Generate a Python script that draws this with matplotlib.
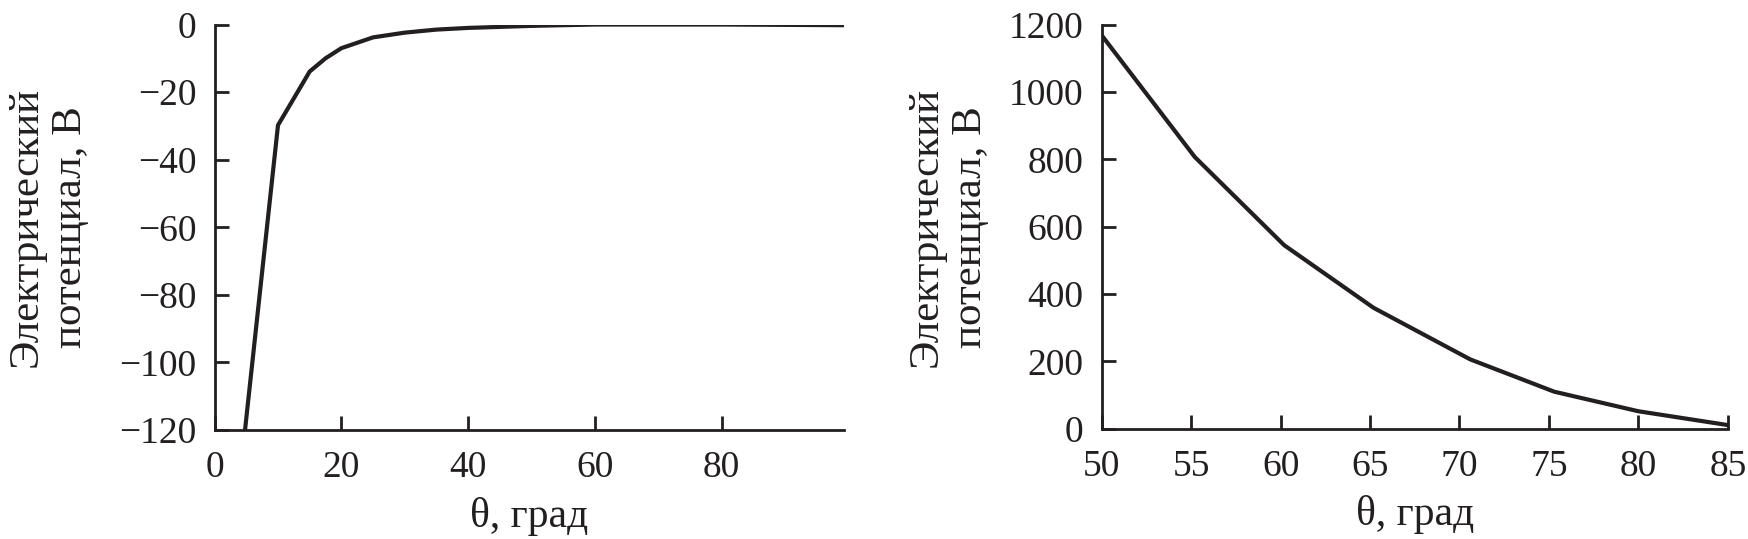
import numpy as np
import matplotlib.pyplot as plt

# left panel: potential vs angle (full range)
theta_left = [4.8, 10, 15, 17.5, 20, 25, 30, 35, 40, 45, 50, 55, 60, 70, 80, 90, 99]
pot_left = [-120, -29.8, -13.9, -10.0, -7.0, -3.8, -2.4, -1.5, -1.0, -0.7, -0.4, -0.2, 0.0, 0.0, 0.0, -0.1, -0.2]

# right panel: potential vs angle (50..85)
theta_right = [50, 55.2, 60.2, 65.2, 70.6, 75.3, 80, 85]
pot_right = [1168, 807, 545, 359, 206, 110, 52, 11]

ylabel = "Электрический\nпотенциал, В"
xlabel = "θ, град"

plt.rcParams["font.family"] = ["Liberation Serif", "DejaVu Serif"]

fig = plt.figure(figsize=(17.49, 5.39), dpi=100)
ax1 = fig.add_axes([0.1227, 0.2022, 0.3599, 0.7523])
ax2 = fig.add_axes([0.6299, 0.2045, 0.3580, 0.75])

for ax in (ax1, ax2):
    for s in ("top", "right"):
        ax.spines[s].set_visible(False)
    for s in ("left", "bottom"):
        ax.spines[s].set_linewidth(2.0)
        ax.spines[s].set_color("#231f20")
    ax.tick_params(direction="in", length=10, width=2.0, color="#231f20",
                   labelsize=27, labelcolor="#231f20")
    ax.tick_params(axis="x", pad=15)
    ax.tick_params(axis="y", pad=13)
    ax.set_xlabel(xlabel, fontsize=30, color="#231f20")
    ax.set_ylabel(ylabel, fontsize=31, color="#231f20", linespacing=1.2)
    ax.xaxis.set_label_coords(0.5, -0.165)

ax1.yaxis.set_label_coords(-0.198, 0.5)
ax2.yaxis.set_label_coords(-0.178, 0.5)

ax1.plot(theta_left, pot_left, color="#231f20", lw=3.0)
ax1.set_xlim(0, 99.3)
ax1.set_ylim(-120, 0)
ax1.set_xticks([0, 20, 40, 60, 80])
ax1.set_yticks([0, -20, -40, -60, -80, -100, -120])

ax2.plot(theta_right, pot_right, color="#231f20", lw=3.0)
ax2.set_xlim(50, 85)
ax2.set_ylim(0, 1200)
ax2.set_xticks(np.arange(50, 90, 5))
ax2.set_yticks(np.arange(0, 1400, 200))

fig.savefig("out.png", dpi=100)
